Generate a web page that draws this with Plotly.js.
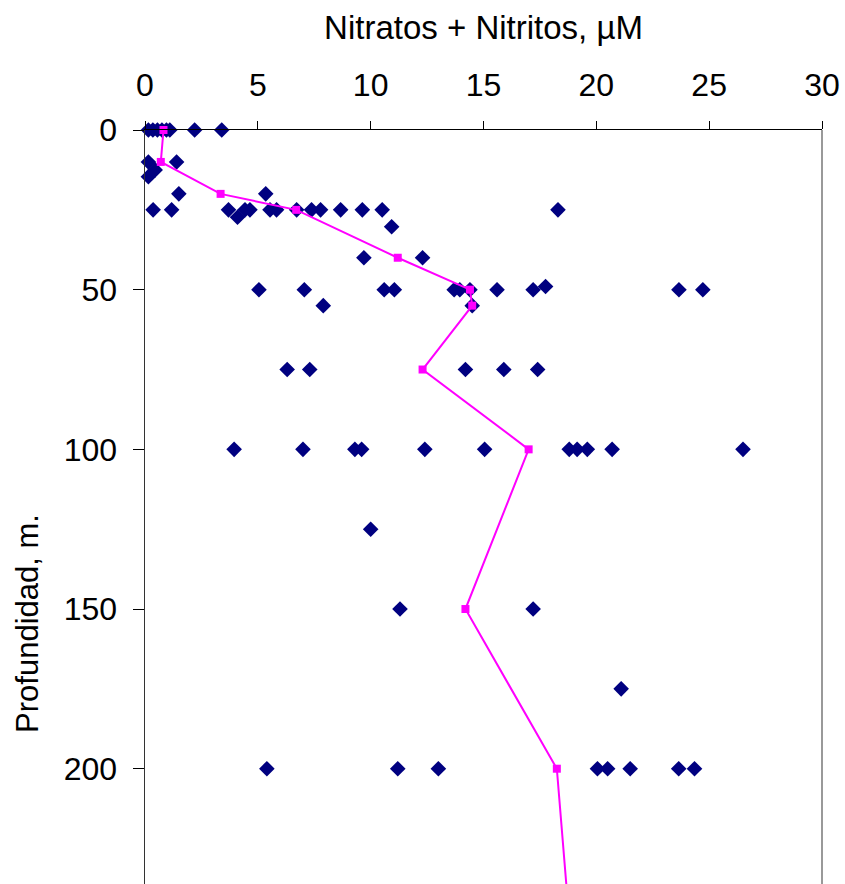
<!DOCTYPE html>
<html>
<head>
<meta charset="utf-8">
<script src="https://cdn.plot.ly/plotly-3.0.1.min.js"></script>
<style>html,body{margin:0;padding:0;background:#fff;}#chart{width:845px;height:884px;}</style>
</head>
<body>
<div id="chart"></div>
<script>
// Individual observations (diamonds), depth (m) and nitrate+nitrite (uM), aligned pairwise
var obsDepth = [
  0, 0, 0, 0, 0, 0, 0, 0,
  10, 10, 12.5, 14.6,
  20, 20,
  25, 25, 25, 27.3, 25, 25, 25, 25, 25, 25, 25, 25, 25, 25, 30.3, 25,
  40, 40,
  50, 50, 50, 50, 50, 50, 50, 50, 50, 49, 50, 50,
  55, 55,
  75, 75, 75, 75, 75,
  100, 100, 100, 100, 100, 100, 100, 100, 100, 100, 100,
  125,
  150, 150,
  175,
  200, 200, 200, 200, 200, 200, 200, 200
];
var obsNitrate = [
  0.15, 0.35, 0.55, 0.75, 0.95, 1.1, 2.2, 3.4,
  0.15, 1.4, 0.45, 0.15,
  1.5, 5.35,
  0.36, 1.18, 3.7, 4.1, 4.43, 4.65, 5.54, 5.83, 6.72, 7.38, 7.78, 8.67, 9.63, 10.51, 10.93, 18.3,
  9.7, 12.3,
  5.05, 7.06, 10.6, 11.05, 13.7, 13.95, 14.4, 15.6, 17.2, 17.75, 23.66, 24.72,
  7.9, 14.5,
  6.3, 7.3, 14.2, 15.9, 17.4,
  3.95, 7.0, 9.3, 9.6, 12.4, 15.05, 18.8, 19.15, 19.6, 20.7, 26.5,
  10.0,
  11.3, 17.2,
  21.1,
  5.4, 11.2, 13.0, 20.05, 20.5, 21.5, 23.65, 24.35
];
// Mean profile (magenta line)
var meanDepth = [0, 10, 20, 25, 40, 50, 55, 75, 100, 150, 200, 250];
var meanNitrate = [0.82, 0.7, 3.35, 6.7, 11.2, 14.4, 14.5, 12.3, 17.0, 14.2, 18.25, 18.83];

var xTicks = [0, 5, 10, 15, 20, 25, 30];
var yTicks = [0, 50, 100, 150, 200];

var fontFam = 'Liberation Sans, Arial, sans-serif';

var traces = [
  {
    type: 'scatter', mode: 'markers', name: 'Observaciones',
    x: obsNitrate, y: obsDepth,
    marker: {symbol: 'diamond', size: 12, color: '#000080', line: {width: 0}},
    cliponaxis: false, showlegend: false
  },
  {
    type: 'scatter', mode: 'lines+markers', name: 'Promedio',
    x: meanNitrate, y: meanDepth,
    line: {color: '#FF00FF', width: 2},
    marker: {symbol: 'square', size: 8, color: '#FF00FF', line: {width: 0}},
    cliponaxis: false, showlegend: false
  }
];

var layout = {
  width: 845, height: 884,
  margin: {l: 145, r: 23, t: 130, b: 0, pad: 0},
  paper_bgcolor: '#ffffff', plot_bgcolor: '#ffffff',
  font: {family: fontFam, color: '#000000'},
  showlegend: false,
  xaxis: {
    side: 'top', range: [0, 30],
    tickvals: xTicks, ticktext: xTicks.map(String),
    ticks: 'outside', ticklen: 8, tickwidth: 1, tickcolor: '#000',
    showline: true, linecolor: '#000', linewidth: 1,
    showgrid: false, zeroline: false,
    tickfont: {size: 32, family: fontFam, color: '#000'},
    ticklabelstandoff: 12,
    title: {text: 'Nitratos + Nitritos, µM', font: {size: 33, family: fontFam, color: '#000'}, standoff: 17}
  },
  yaxis: {
    range: [236.1, 0],
    tickvals: yTicks, ticktext: yTicks.map(String),
    ticks: 'outside', ticklen: 11, tickwidth: 1, tickcolor: '#000',
    showline: true, linecolor: '#333', linewidth: 1.5,
    showgrid: false, zeroline: false,
    tickfont: {size: 32, family: fontFam, color: '#000'},
    ticklabelstandoff: 9
  },
  shapes: [
    {type: 'line', xref: 'paper', yref: 'paper', x0: 1, x1: 1, y0: 0, y1: 1,
     line: {color: '#999999', width: 2}}
  ],
  annotations: [
    {text: 'Profundidad, m.', xref: 'paper', yref: 'paper',
     x: -0.1728, y: 0.345, xanchor: 'center', yanchor: 'middle',
     textangle: -90, showarrow: false,
     font: {size: 31, family: fontFam, color: '#000'}}
  ]
};

Plotly.newPlot('chart', traces, layout, {displayModeBar: false, staticPlot: true});
</script>
</body>
</html>
